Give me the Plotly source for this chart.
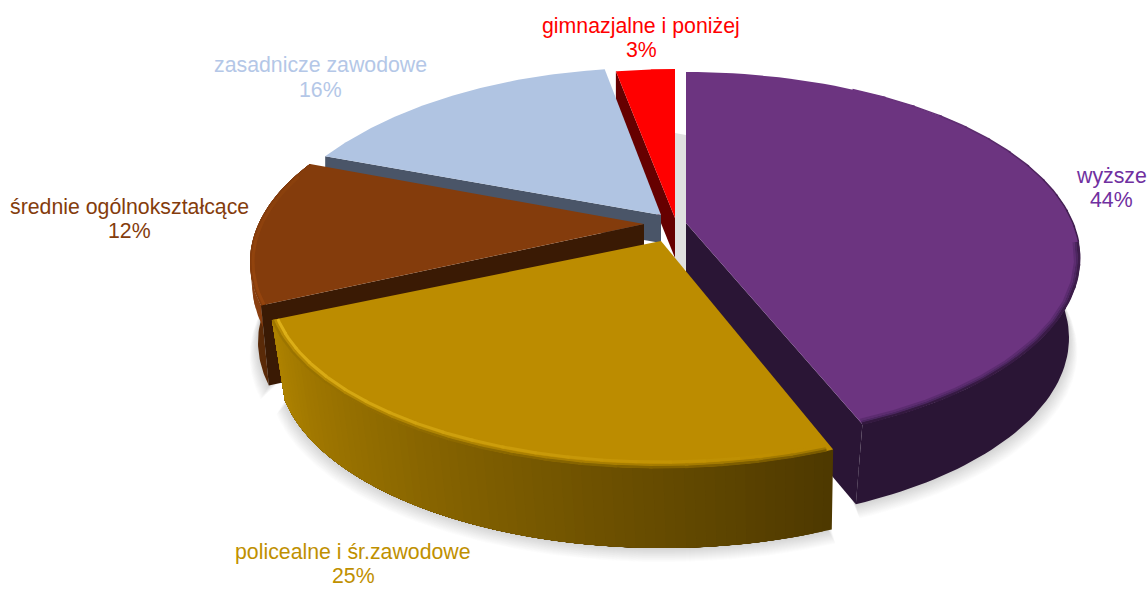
import math
import plotly.graph_objects as go

# Data
categories = ["wyższe", "policealne i śr.zawodowe", "średnie ogólnokształcące",
              "zasadnicze zawodowe", "gimnazjalne i poniżej"]
values = [44, 25, 12, 16, 3]

# Styles (one per slice)
top_colors = ["#6C3480", "#BC8C00", "#843C0C", "#B0C4E2", "#FF0000"]
inner_colors = ["#2A1535", "#4A3700", "#3A1A04", "#4A5568", "#660000"]
label_colors = ["#7030A0", "#BF9000", "#843C0C", "#B4C7E7", "#FF0000"]

# Projection of each exploded slice: ellipse centre, radii, apex, depth,
# lower rim radius and shift, and perspective correction of start/end angle (degrees)
geom = [
    dict(e=(686, 258), r=(394, 186), a=(686, 223), d=80, rb=386, bx=-3, adj=(0, -5.0), inner=80, skip=60),
    dict(e=(660, 286), r=(395, 182), a=(661, 241), d=80, rb=385, bx=3, adj=(-4.4, 10.8), inner=80, skip=0),
    dict(e=(650, 262), r=(400, 186), a=(644, 224), d=80, rb=392, bx=0, adj=(8.1, 10.2), inner=80, skip=0),
    dict(e=(650, 280), r=(400, 212), a=(661, 215), d=0, rb=400, bx=0, adj=(14.1, 4.3), inner=28, skip=0),
    dict(e=(675, 280), r=(400, 211), a=(675, 218), d=0, rb=400, bx=0, adj=(2.3, 0), inner=40, skip=0),
]
label_x = [1111, 353, 129, 320, 641]
label_y = [(176, 200), (552, 576), (207, 231), (65, 90), (26, 50)]

# Angle bounds derived from values
cum = 0
bounds = []
total = sum(values)
for v, g in zip(values, geom):
    s = cum / total * 360
    cum += v
    t = cum / total * 360
    bounds.append((s + g["adj"][0], t + g["adj"][1]))


def arc(g, t0, t1, n=90, dy=0, rx=None, ry=None, dx=0):
    rx = rx or g["r"][0]
    ry = ry or g["r"][1]
    xs, ys = [], []
    for i in range(n + 1):
        t = math.radians(t0 + (t1 - t0) * i / n)
        xs.append(g["e"][0] + dx + rx * math.sin(t))
        ys.append(g["e"][1] + dy - ry * math.cos(t))
    return xs, ys


fig = go.Figure()


def poly(xs, ys, color, line=0):
    fig.add_trace(go.Scatter(x=xs, y=ys, mode="lines", fill="toself", fillcolor=color,
                             line=dict(color=color, width=line), hoverinfo="skip", showlegend=False))


def stroke(xs, ys, color, width):
    fig.add_trace(go.Scatter(x=xs, y=ys, mode="lines", line=dict(color=color, width=width),
                             hoverinfo="skip", showlegend=False))


def mix(c0, c1, f):
    a = [int(c0[i:i + 2], 16) for i in (1, 3, 5)]
    b = [int(c1[i:i + 2], 16) for i in (1, 3, 5)]
    return "#" + "".join(f"{round(p + (q - p) * f):02X}" for p, q in zip(a, b))


def outer_side(i, c0, c1, strips=40, depth=None):
    # strips are painted back to front, each overlapping the next one's span
    g = geom[i]
    t0, t1 = bounds[i]
    t0 += g["skip"]
    d = depth if depth is not None else g["d"]
    f = d / g["d"]
    rb = g["r"][0] + (g["rb"] - g["r"][0]) * f
    for k in range(strips):
        a = t0 + (t1 - t0) * k / strips
        xt, yt = arc(g, a, t1, n=60)
        xb, yb = arc(g, a, t1, n=60, dy=d, rx=rb, dx=g["bx"] * f)
        c = mix(c0, c1, k / max(strips - 1, 1))
        poly(xt + xb[::-1], yt + yb[::-1], c)


def inner_side(i, end):
    # extruded radial wall, at angle bound `end` (0 start, 1 end)
    g = geom[i]
    xa, ya = arc(g, bounds[i][end], bounds[i][end], n=1)
    xb, _ = arc(g, bounds[i][end], bounds[i][end], n=1, rx=g["rb"], dx=g["bx"])
    ax, ay = g["a"]
    d = g["inner"]
    poly([ax, xa[0], xb[0], ax], [ay, ya[0], ya[0] + d, ay + d], inner_colors[i])


def top(i):
    g = geom[i]
    xs, ys = arc(g, *bounds[i])
    poly([g["a"][0]] + xs + [g["a"][0]], [g["a"][1]] + ys + [g["a"][1]], top_colors[i])


def band(i, t0, t1, inset, width, c0, c1, segs=16):
    g = geom[i]
    for k in range(segs):
        a = t0 + (t1 - t0) * k / segs
        b = t0 + (t1 - t0) * (k + 1.1) / segs
        b = max(min(b, max(t0, t1)), min(t0, t1))
        stroke(*arc(g, a, b, n=6, rx=g["r"][0] - inset, ry=g["r"][1] - inset),
               mix(c0, c1, k / max(segs - 1, 1)), width)


# soft shadow below the pie
for off in range(1, 15):
    for i in (1, 0, 2):
        g = geom[i]
        s0 = bounds[i][0] + g["skip"]
        xb, yb = arc(g, s0, bounds[i][1], dy=g["d"] + off, rx=g["rb"] + off * 0.6, dx=g["bx"])
        xt, yt = arc(g, s0, bounds[i][1], dy=g["d"] - 30, rx=g["rb"] - 40)
        poly(xb + xt[::-1], yb + yt[::-1], "rgba(90,90,90,0.018)")
poly([675, 686, 686, 675], [133, 135, 270, 262], "#E0E0E0")

# gimnazjalne
inner_side(4, 0)
top(4)
# zasadnicze
inner_side(3, 0)
top(3)
# srednie
outer_side(2, "#5A2A08", "#5A2A08", 1)
outer_side(2, "#8A3F10", "#7A3810", 8, depth=22)
inner_side(2, 0)
top(2)
band(2, bounds[2][0], bounds[2][1] - 4, 3, 3, "#94440E", "#8A400C", 4)
# wyzsze
outer_side(0, "#2A1535", "#2A1535", 1)
inner_side(0, 1)
top(0)
t0, t1 = bounds[0]
band(0, 25, 85, 0, 1.5, "#6C3480", "#3E1D4C", 12)
band(0, 85, t1, 1, 3, "#3E1D4C", "#33193F", 10)
band(0, 85, t1, 3, 2, "#4C2660", "#4C2660", 2)
band(0, 85, t1, 5, 2, "#5C2C70", "#5C2C70", 2)
# policealne
outer_side(1, "#4E3900", "#AE8200", 70)
top(1)
t0, t1 = bounds[1]
band(1, t0 + 1, t1, 1, 3, "#7A5B00", "#9E7600", 20)
band(1, t0 + 1, t1, 3, 2, "#A07800", "#B98C05", 20)
band(1, t0 + 4, t1, 6, 3, "#BC8C00", "#DDB018", 20)

annotations = []
for name, v, c, x, (y1, y2) in zip(categories, values, label_colors, label_x, label_y):
    for text, y in ((name, y1), (f"{v}%", y2)):
        annotations.append(dict(x=x, y=y, xref="x", yref="y", text=text, showarrow=False,
                                font=dict(family="Liberation Sans", size=21.3, color=c),
                                xanchor="center", yanchor="middle"))

fig.update_layout(
    width=1147, height=589, margin=dict(l=0, r=0, t=0, b=0),
    paper_bgcolor="white", plot_bgcolor="white", showlegend=False,
    xaxis=dict(range=[0, 1147], visible=False, fixedrange=True),
    yaxis=dict(range=[589, 0], visible=False, fixedrange=True),
    annotations=annotations,
)
fig.write_html("out.html", post_script="document.body.style.margin='0'",
               config=dict(displayModeBar=False))
